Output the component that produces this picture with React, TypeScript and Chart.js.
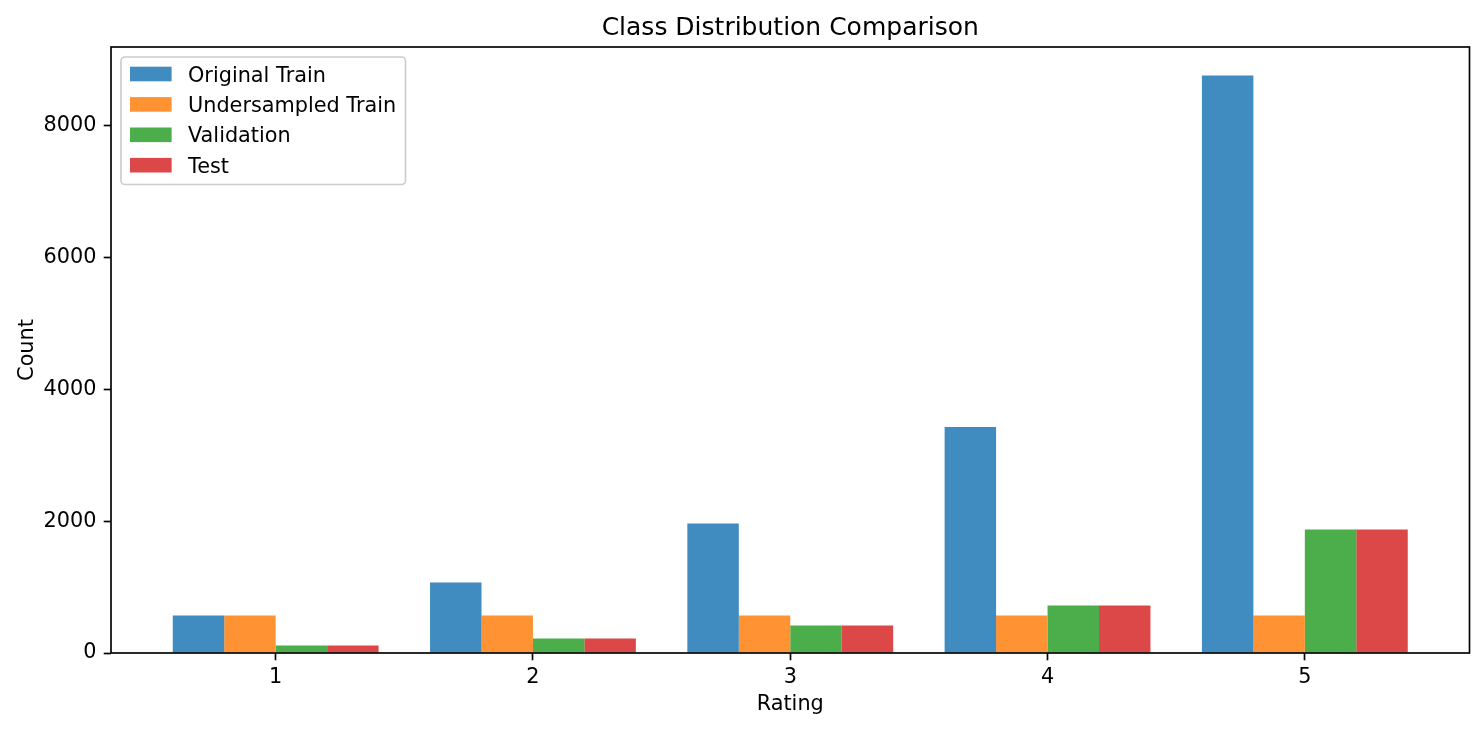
import { useEffect, useRef } from "react";
import { Chart, registerables } from "chart.js";

Chart.register(...registerables);

const categories = [1, 2, 3, 4, 5];
const originalTrain = [570, 1070, 1966, 3430, 8767];
const undersampledTrain = [570, 570, 570, 570, 570];
const validation = [114, 220, 417, 721, 1875];
const test = [114, 220, 417, 721, 1875];
const seriesNames = ["Original Train", "Undersampled Train", "Validation", "Test"];
const seriesColors = [
  "rgba(31,119,180,0.85)",
  "rgba(255,127,14,0.85)",
  "rgba(44,160,44,0.85)",
  "rgba(214,39,40,0.85)",
];
const yTicks = [0, 2000, 4000, 6000, 8000];
const chartTitle = "Class Distribution Comparison";
const xLabel = "Rating";
const yLabel = "Count";

const FONT = "'DejaVu Sans', sans-serif";
const FS = 20.8;
const LW = 1.67;

export default function App() {
  const ref = useRef<HTMLCanvasElement | null>(null);

  useEffect(() => {
    const canvas = ref.current;
    if (!canvas) return;
    const allSeries = [originalTrain, undersampledTrain, validation, test];

    const framePlugin = {
      id: "frameAndText",
      afterDatasetsDraw(chart: any) {
        const { ctx, chartArea } = chart;
        ctx.save();
        ctx.strokeStyle = "#000";
        ctx.lineWidth = LW;
        ctx.strokeRect(chartArea.left, chartArea.top, chartArea.right - chartArea.left, chartArea.bottom - chartArea.top);
        // title
        ctx.fillStyle = "#000";
        ctx.font = `25px ${FONT}`;
        ctx.textAlign = "center";
        ctx.textBaseline = "alphabetic";
        ctx.fillText(chartTitle, (chartArea.left + chartArea.right) / 2, 34.5);
        // legend
        const bx = chartArea.left + 10;
        const by = chartArea.top + 10;
        const bw = 284.5;
        const bh = 127.5;
        const r = 4;
        ctx.beginPath();
        ctx.moveTo(bx + r, by);
        ctx.arcTo(bx + bw, by, bx + bw, by + bh, r);
        ctx.arcTo(bx + bw, by + bh, bx, by + bh, r);
        ctx.arcTo(bx, by + bh, bx, by, r);
        ctx.arcTo(bx, by, bx + bw, by, r);
        ctx.closePath();
        ctx.fillStyle = "rgba(255,255,255,0.8)";
        ctx.fill();
        ctx.strokeStyle = "#cccccc";
        ctx.lineWidth = LW;
        ctx.stroke();
        ctx.font = `${FS}px ${FONT}`;
        ctx.textAlign = "left";
        seriesNames.forEach((name, i) => {
          const cy = by + 17 + i * 30.4;
          ctx.fillStyle = seriesColors[i];
          ctx.fillRect(bx + 9, cy - 7.3, 41.6, 14.6);
          ctx.fillStyle = "#000";
          ctx.fillText(name, bx + 67, cy + 7.5);
        });
        ctx.restore();
      },
    };

    const chart = new Chart(canvas, {
      type: "bar",
      data: {
        datasets: allSeries.map((vals, i) => ({
          label: seriesNames[i],
          data: categories.map((c, j) => ({ x: c, y: vals[j] })),
          backgroundColor: seriesColors[i],
          borderWidth: 0,
          categoryPercentage: 0.8,
          barPercentage: 1.0,
        })),
      },
      options: {
        animation: false,
        responsive: false,
        devicePixelRatio: 1,
        layout: { padding: { top: 47, right: 14.5, bottom: 0, left: 0 } },
        plugins: {
          legend: { display: false },
          tooltip: { enabled: false },
          title: { display: false },
        },
        scales: {
          x: {
            type: "linear",
            min: 0.36,
            max: 5.64,
            offset: false,
            grid: {
              offset: false,
              display: true,
              drawOnChartArea: false,
              drawTicks: true,
              tickLength: 7.3,
              tickWidth: LW,
              tickColor: "#000",
            },
            border: { display: false },
            afterBuildTicks: (axis: any) => {
              axis.ticks = categories.map((v) => ({ value: v }));
            },
            afterFit: (axis: any) => {
              axis.height = 78;
            },
            ticks: {
              color: "#000",
              padding: 5,
              font: { family: FONT, size: FS },
              maxRotation: 0,
              autoSkip: false,
              callback: (v: any) => String(v),
            },
            title: {
              display: true,
              text: xLabel,
              color: "#000",
              font: { family: FONT, size: FS },
              padding: { top: 0, bottom: 14 },
            },
          },
          y: {
            type: "linear",
            min: 0,
            max: 9199,
            grid: {
              display: true,
              drawOnChartArea: false,
              drawTicks: true,
              tickLength: 7.3,
              tickWidth: LW,
              tickColor: "#000",
            },
            border: { display: false },
            afterBuildTicks: (axis: any) => {
              axis.ticks = yTicks.map((v) => ({ value: v }));
            },
            afterFit: (axis: any) => {
              axis.width = 111;
            },
            ticks: {
              color: "#000",
              padding: 7.3,
              font: { family: FONT, size: FS },
              autoSkip: false,
              callback: (v: any) => String(v),
            },
            title: {
              display: true,
              text: yLabel,
              color: "#000",
              font: { family: FONT, size: FS },
              padding: { top: 15, bottom: 0 },
            },
          },
        },
      },
      plugins: [framePlugin],
    } as any);

    return () => chart.destroy();
  }, []);

  return (
    <div style={{ position: "absolute", left: 0, top: 0, width: 1484, height: 731, background: "#fff" }}>
      <canvas ref={ref} width={1484} height={731} style={{ width: 1484, height: 731, display: "block" }} />
    </div>
  );
}
